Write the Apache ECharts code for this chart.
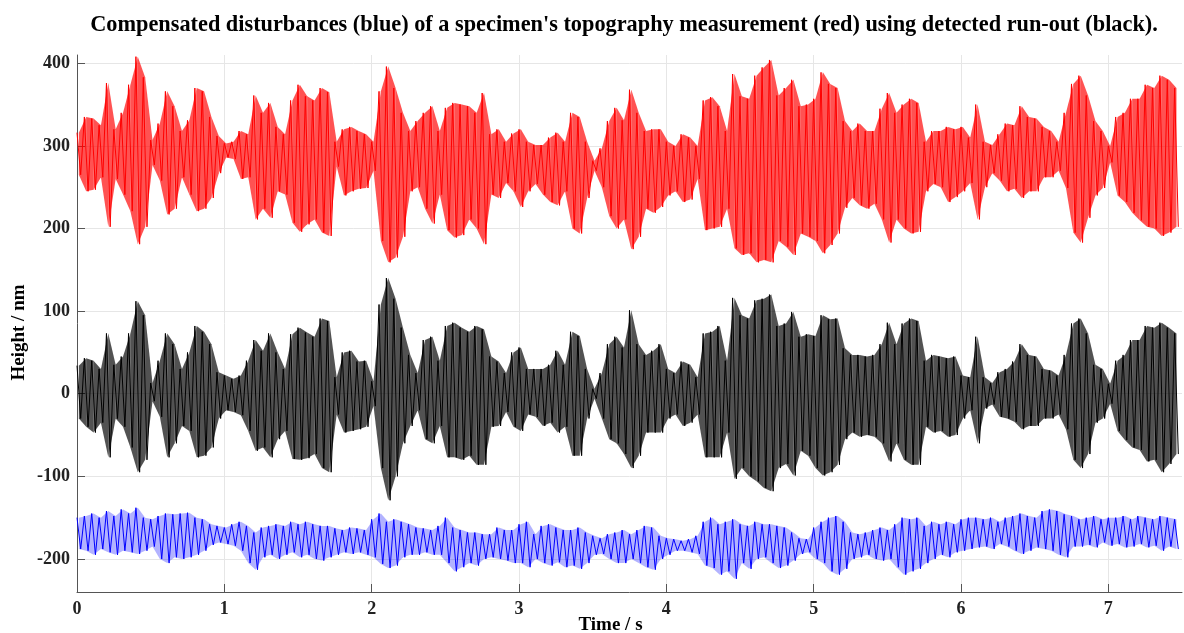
<!DOCTYPE html>
<html>
<head>
<meta charset="utf-8">
<script src="https://cdn.jsdelivr.net/npm/echarts@6/dist/echarts.min.js"></script>
<style>
  html, body { margin: 0; padding: 0; background: #fff; }
  #chart { width: 1184px; height: 633px; }
</style>
</head>
<body>
<div id="chart"></div>
<script>
// one peak and one trough per 0.05 s bin (nm)
const binWidth = 0.05

const redPeaks = [316,335,333,325,376,320,340,374,408,383,307,327,366,348,318,331,370,366,335,312,303,305,318,314,361,
  340,352,323,314,355,374,360,355,370,365,305,320,323,318,314,305,366,396,370,340,318,330,340,348,318,
  346,352,350,348,340,364,314,320,305,315,320,305,301,301,310,316,305,340,335,305,282,297,330,346,331,
  368,340,318,320,320,305,300,314,310,300,355,359,348,318,387,360,357,385,395,404,361,370,380,348,350,
  357,389,375,370,330,318,327,318,318,345,364,340,350,357,352,305,318,318,323,320,323,310,350,305,301,
  314,327,325,348,335,333,323,318,305,340,375,385,361,330,318,300,335,340,357,357,374,370,385,380,370]
const redTroughs = [265,245,247,262,202,260,241,221,181,202,277,258,217,224,262,241,221,224,237,267,286,284,260,262,211,
  224,213,245,241,207,196,205,211,195,191,275,240,245,248,249,270,185,159,165,190,245,250,224,206,241,
  198,189,192,211,200,181,241,237,255,245,226,245,254,241,232,228,245,200,194,237,270,250,215,200,211,
  175,190,224,219,226,240,245,232,235,260,198,200,202,224,176,168,170,159,162,159,185,178,168,194,190,
  185,170,180,194,225,237,228,224,230,211,183,211,200,194,196,245,254,250,232,238,245,255,211,250,267,
  258,245,248,237,245,245,262,262,270,249,195,183,213,240,249,280,240,232,219,210,202,200,191,195,202]

const blackPeaks = [34,43,40,30,73,35,45,73,112,95,13,40,73,60,30,50,82,75,60,26,22,18,22,40,65,
  52,73,50,30,72,80,74,69,91,88,20,50,52,39,40,15,108,140,115,80,47,25,65,69,40,
  82,86,80,75,82,78,45,39,25,50,56,30,30,30,35,52,35,75,70,30,6,25,60,69,56,
  101,60,47,52,60,30,25,39,35,20,73,75,82,40,116,95,91,113,115,120,82,85,99,69,72,
  70,95,90,91,55,47,47,45,47,60,86,60,85,91,88,40,47,45,43,45,22,20,69,20,13,
  26,30,39,60,47,45,30,28,22,47,85,91,73,35,30,12,40,47,65,65,82,80,86,80,73]
const blackTroughs = [-30,-40,-47,-35,-77,-30,-40,-65,-95,-80,-9,-28,-77,-60,-39,-45,-77,-75,-65,-30,-20,-22,-26,-45,-69,
  -65,-77,-55,-45,-79,-80,-78,-73,-90,-95,-25,-47,-45,-43,-40,-15,-90,-129,-100,-60,-39,-20,-55,-60,-39,
  -77,-77,-80,-75,-86,-86,-40,-39,-22,-40,-45,-25,-28,-39,-35,-47,-40,-75,-75,-30,-6,-30,-55,-60,-73,
  -90,-75,-47,-47,-47,-30,-25,-39,-35,-25,-77,-77,-77,-47,-103,-90,-100,-106,-114,-118,-90,-85,-99,-69,-75,
  -90,-99,-95,-86,-55,-47,-52,-50,-52,-60,-82,-60,-80,-86,-86,-40,-47,-45,-52,-50,-30,-20,-60,-18,-13,
  -28,-30,-34,-43,-39,-39,-30,-30,-25,-43,-80,-90,-73,-35,-30,-12,-45,-56,-65,-68,-82,-80,-95,-85,-73]

const bluePeaks = [-150,-148,-145,-150,-142,-148,-140,-145,-138,-150,-152,-148,-145,-146,-145,-144,-150,-152,-158,-160,-162,-158,-155,-160,-168,
  -162,-160,-158,-160,-155,-158,-155,-158,-160,-160,-163,-165,-162,-163,-165,-152,-145,-155,-152,-155,-158,-162,-163,-165,-160,
  -150,-162,-165,-168,-168,-170,-170,-162,-165,-165,-158,-155,-170,-160,-158,-162,-165,-165,-162,-168,-172,-175,-170,-168,-165,
  -170,-165,-160,-162,-172,-175,-176,-178,-176,-172,-155,-150,-158,-155,-152,-158,-160,-155,-158,-158,-160,-162,-168,-175,-176,
  -162,-155,-150,-148,-155,-168,-170,-168,-165,-162,-165,-158,-150,-152,-150,-160,-155,-158,-155,-158,-152,-150,-150,-152,-150,
  -155,-150,-148,-145,-148,-150,-142,-140,-142,-146,-148,-152,-150,-148,-152,-150,-150,-148,-152,-148,-150,-152,-148,-150,-152]
const blueTroughs = [-188,-190,-195,-188,-192,-195,-190,-192,-194,-190,-185,-200,-205,-198,-200,-198,-195,-190,-183,-180,-182,-184,-190,-205,-213,
  -198,-195,-200,-195,-192,-198,-195,-200,-202,-198,-195,-192,-194,-192,-195,-198,-206,-211,-208,-198,-195,-195,-192,-195,-195,
  -205,-215,-210,-205,-208,-200,-198,-200,-202,-205,-205,-210,-200,-205,-208,-204,-210,-208,-212,-205,-195,-194,-200,-205,-205,
  -200,-205,-210,-213,-200,-195,-190,-190,-192,-194,-208,-211,-219,-215,-224,-205,-212,-200,-198,-205,-211,-208,-202,-194,-192,
  -200,-205,-215,-219,-212,-200,-198,-195,-200,-202,-200,-210,-219,-215,-212,-205,-200,-195,-198,-192,-190,-188,-186,-185,-188,
  -182,-185,-190,-194,-190,-186,-188,-190,-195,-198,-185,-185,-183,-186,-180,-184,-182,-186,-185,-182,-186,-184,-190,-185,-188]

const xTicks = [0, 1, 2, 3, 4, 5, 6, 7]

// trace: peak then trough in every bin
const zigzag = (peaks, troughs) => {
  const out = []
  peaks.forEach((p, i) => {
    out.push([i * binWidth, p])
    out.push([i * binWidth + binWidth / 2, troughs[i]])
  })
  return out
}

// envelope segments: [t0, peak0, trough0, t1, peak1, trough1]
const envelope = (peaks, troughs) => {
  const out = []
  for (let i = 0; i < peaks.length - 1; i++) {
    out.push([(i + 0.25) * binWidth, peaks[i], troughs[i], (i + 1.25) * binWidth, peaks[i + 1], troughs[i + 1]])
  }
  return out
}

const font = 'Liberation Serif'
const chart = echarts.init(document.getElementById('chart'))

const lineSeries = (data, color) => ({
  type: 'line',
  data: data,
  showSymbol: false,
  silent: true,
  animation: false,
  z: 3,
  lineStyle: { color: color, width: 1 }
})

const bandSeries = (data, color, opacity) => ({
  type: 'custom',
  data: data,
  silent: true,
  animation: false,
  z: 2,
  clip: true,
  encode: { x: [0, 3], y: [1, 2, 4, 5] },
  renderItem: (params, api) => {
    const a = api.coord([api.value(0), api.value(1)])
    const b = api.coord([api.value(3), api.value(4)])
    const c = api.coord([api.value(3), api.value(5)])
    const d = api.coord([api.value(0), api.value(2)])
    return {
      type: 'polygon',
      shape: { points: [a, b, c, d] },
      style: { fill: color, opacity: opacity, stroke: null }
    }
  }
})

chart.setOption({
  backgroundColor: '#fff',
  title: {
    text: "Compensated disturbances (blue) of a specimen's topography measurement (red) using detected run-out (black).",
    left: 619,
    top: 9,
    textAlign: 'center',
    textStyle: { fontFamily: font, fontWeight: 'bold', fontSize: 22.3, color: '#000' }
  },
  grid: { left: 77, right: 2, top: 55, bottom: 41, outerBoundsMode: 'none', containLabel: false },
  xAxis: {
    type: 'value',
    min: 0,
    max: 7.5,
    interval: 1,
    name: 'Time / s',
    nameLocation: 'middle',
    nameGap: 24,
    nameMoveOverlap: false,
    nameTextStyle: { fontFamily: font, fontWeight: 'bold', fontSize: 19, color: '#000', padding: [0, 38, 0, 0] },
    axisLine: { onZero: false, lineStyle: { color: '#555', width: 1 } },
    axisTick: { inside: true, length: 8, lineStyle: { color: '#555' } },
    axisLabel: {
      fontFamily: font, fontWeight: 'bold', fontSize: 18, color: '#222', margin: 8,
      showMaxLabel: false,
      formatter: v => (xTicks.includes(v) ? String(v) : '')
    },
    splitLine: { show: true, showMaxLine: false, lineStyle: { color: '#e6e6e6', width: 1 } }
  },
  yAxis: {
    type: 'value',
    min: -240,
    max: 410,
    splitNumber: 6,
    name: 'Height / nm',
    nameLocation: 'middle',
    nameGap: 48,
    nameMoveOverlap: false,
    nameTextStyle: { fontFamily: font, fontWeight: 'bold', fontSize: 19, color: '#000', padding: [0, 18, 0, 0] },
    axisLine: { show: true, onZero: false, lineStyle: { color: '#555', width: 1 } },
    axisTick: { show: true, inside: true, length: 8, lineStyle: { color: '#555' } },
    axisLabel: {
      fontFamily: font, fontWeight: 'bold', fontSize: 18, color: '#222', margin: 7,
      showMinLabel: false, showMaxLabel: false
    },
    splitLine: { show: true, showMinLine: false, showMaxLine: false, lineStyle: { color: '#e6e6e6', width: 1 } }
  },
  series: [
    bandSeries(envelope(redPeaks, redTroughs), '#ff0000', 0.68),
    bandSeries(envelope(blackPeaks, blackTroughs), '#000000', 0.68),
    bandSeries(envelope(bluePeaks, blueTroughs), '#0000ff', 0.3),
    lineSeries(zigzag(redPeaks, redTroughs), '#ff0000'),
    lineSeries(zigzag(blackPeaks, blackTroughs), '#000000'),
    lineSeries(zigzag(bluePeaks, blueTroughs), '#0000ff')
  ]
})
</script>
</body>
</html>
